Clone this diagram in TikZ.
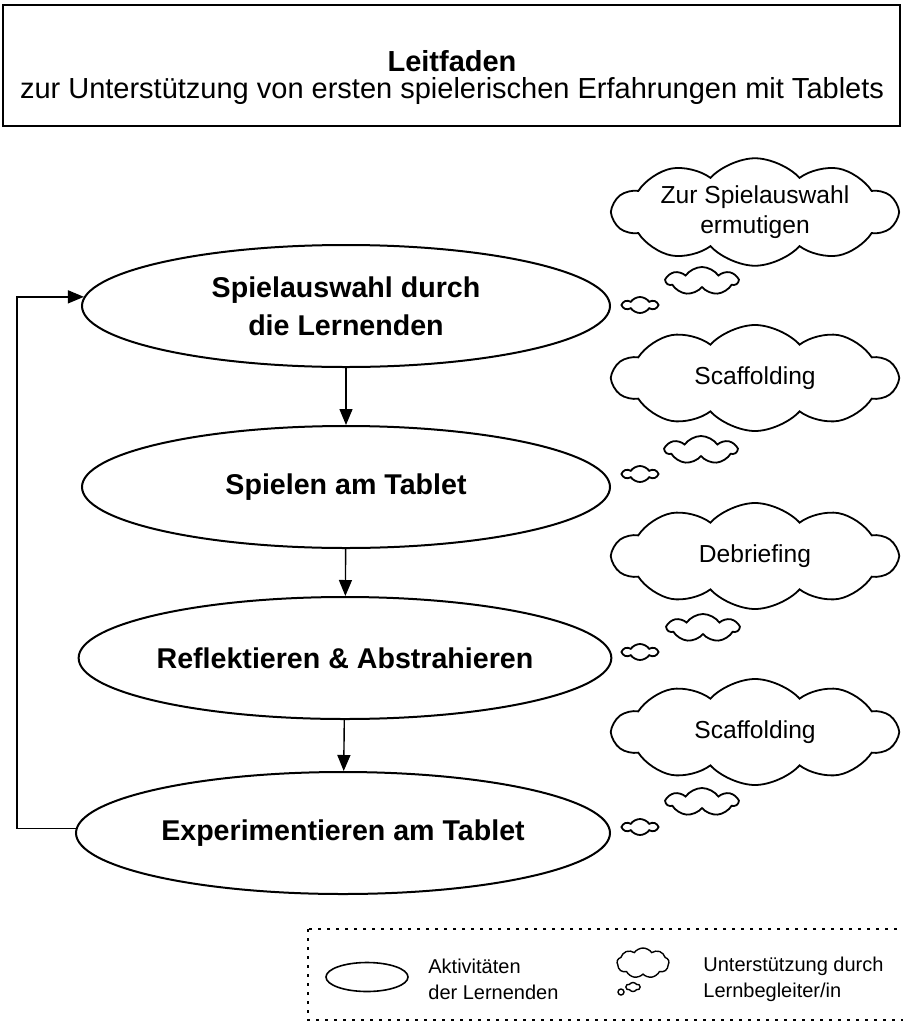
\documentclass[tikz,border=0pt]{standalone}
\usepackage{fontspec}
\setmainfont{Liberation Sans}
\usetikzlibrary{shapes.geometric,shapes.symbols,arrows.meta}

\tikzset{
  aktivitaet/.style={ellipse,draw,line width=1pt,minimum width=264pt,minimum height=61pt,
    inner sep=0pt,align=center,font=\bfseries\fontsize{14.3}{19}\selectfont},
  gedanke/.style={cloud,draw,line width=0.9pt,cloud puffs=10,cloud puff arc=95,
    cloud ignores aspect,minimum width=142pt,minimum height=53pt,inner sep=0pt,
    align=center,font=\fontsize{12.3}{15}\selectfont},
  blase/.style={cloud,draw,line width=0.9pt,cloud puffs=7,cloud puff arc=110,
    cloud ignores aspect,minimum width=35.5pt,minimum height=14pt,inner sep=0pt},
  blaschen/.style={blase,cloud puffs=6,minimum width=17pt,minimum height=8pt},
  pfeil/.style={-{Triangle[length=8pt,width=6.5pt]},line width=0.7pt},
  legende/.style={align=left,anchor=west,inner sep=0pt,font=\fontsize{10}{13}\selectfont},
}

\begin{document}
\begin{tikzpicture}[x=0.5pt,y=-0.5pt]
  \useasboundingbox (0,0) rectangle (903,1023);

  % Titel
  \node[draw,line width=1pt,minimum width=448.5pt,minimum height=60.5pt] (titel) at (451.5,65.5) {};
  \node[anchor=base,inner sep=0pt,font=\bfseries\fontsize{14.5}{18}\selectfont] (leitfaden) at (452,71) {Leitfaden};
  \node[anchor=base,inner sep=0pt,font=\fontsize{14.5}{18}\selectfont] (untertitel) at (452,98)
    {zur Unterstützung von ersten spielerischen Erfahrungen mit Tablets};

  % Aktivitaeten der Lernenden
  \node[aktivitaet] (e1) at (346,306) {Spielauswahl durch\\die Lernenden};
  \node[aktivitaet] (e2) at (346,487) {Spielen am Tablet};
  \node[aktivitaet] (e3) at (345,658) {Reflektieren \& Abstrahieren};
  \node[aktivitaet,minimum width=267pt] (e4) at (343,833) {Experimentieren am Tablet};

  \draw[pfeil] (e1) -- (e2);
  \draw[pfeil] (e2) -- (e3);
  \draw[pfeil] (e3) -- (e4);

  % Rueckfuehrung
  \coordinate (links) at (17,0);
  \draw[pfeil] (e4.179) -- (e4.179 -| links) |- (e1.178.5);

  % Unterstuetzung durch Lernbegleiter/in
  \node[gedanke,minimum height=50pt] (w1) at (755,212) {Zur Spielauswahl\\ermutigen};
  \node[blase] (b1) at (702,281) {};
  \node[blaschen] (t1) at (640,305) {};

  \node[gedanke] (w2) at (755,378) {Scaffolding};
  \node[blase] (b2) at (701,450) {};
  \node[blaschen] (t2) at (640,474) {};

  \node[gedanke] (w3) at (755,556) {Debriefing};
  \node[blase] (b3) at (703,628) {};
  \node[blaschen] (t3) at (640,652) {};

  \node[gedanke] (w4) at (755,732) {Scaffolding};
  \node[blase] (b4) at (702,802) {};
  \node[blaschen] (t4) at (640,827) {};

  % Legende
  \draw[line width=0.8pt,dash pattern=on 1.5pt off 3pt] (308,929) rectangle (930,1020);
  \node[ellipse,draw,line width=0.8pt,minimum width=41pt,minimum height=14.5pt] (le) at (367,977) {};
  \node[legende] (lt1) at (428,979) {Aktivitäten\\der Lernenden};
  \node[cloud,draw,line width=0.7pt,cloud puffs=9,cloud puff arc=110,cloud ignores aspect,
    minimum width=26pt,minimum height=15pt,inner sep=0pt] (lw) at (643,963) {};
  \node[cloud,draw,line width=0.7pt,cloud puffs=6,cloud puff arc=110,cloud ignores aspect,
    minimum width=7pt,minimum height=4.5pt,inner sep=0pt] (lb) at (633,987) {};
  \node[circle,draw,line width=0.7pt,minimum size=3pt,inner sep=0pt] (lk) at (621,992) {};
  \node[legende] (lt2) at (703,979) {Unterstützung durch\\Lernbegleiter/in};
\end{tikzpicture}
\end{document}
